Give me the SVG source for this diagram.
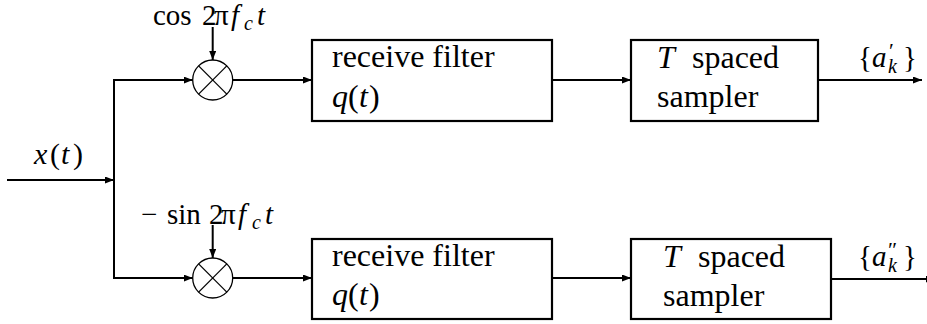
<svg xmlns="http://www.w3.org/2000/svg" width="927" height="324" viewBox="0 0 927 324">
<style>
.w{stroke:#000;stroke-width:2;fill:none}
.box{stroke:#000;stroke-width:2.2;fill:#fff}
.mix{stroke:#000;stroke-width:1.3;fill:#fff}
.x{stroke:#000;stroke-width:1.3}
.i{font-style:italic}
.s{font-size:20px}
.m{font-size:29px}
</style>
<defs>
<marker id="ah" markerWidth="9" markerHeight="7" refX="9" refY="3.5" orient="auto" markerUnits="userSpaceOnUse">
<path d="M0,0 L9,3.5 L0,7 Z" fill="#000"/>
</marker>
</defs>
<g id="connectors">
<line class="w" x1="7" y1="180" x2="114" y2="180" marker-end="url(#ah)"/>
<polyline class="w" points="192.7,80 114,80 114,278 192.7,278"/>
<line class="w" x1="114" y1="80" x2="192.7" y2="80" marker-end="url(#ah)"/>
<line class="w" x1="114" y1="278" x2="192.7" y2="278" marker-end="url(#ah)"/>
<line class="w" x1="212.7" y1="27" x2="212.7" y2="60" marker-end="url(#ah)"/>
<line class="w" x1="212.7" y1="225" x2="212.7" y2="258" marker-end="url(#ah)"/>
<line class="w" x1="232.7" y1="80" x2="312" y2="80" marker-end="url(#ah)"/>
<line class="w" x1="232.7" y1="278" x2="312" y2="278" marker-end="url(#ah)"/>
<line class="w" x1="552" y1="80" x2="631" y2="80" marker-end="url(#ah)"/>
<line class="w" x1="552" y1="278" x2="631" y2="278" marker-end="url(#ah)"/>
<line class="w" x1="818" y1="80" x2="922" y2="80" marker-end="url(#ah)"/>
<line class="w" x1="831" y1="279" x2="935" y2="279" marker-end="url(#ah)"/>
</g>
<g font-family="'Liberation Serif', 'Times New Roman', serif" font-size="32" fill="#000">
<g id="input-label">
<text y="164" font-size="30"><tspan class="i" x="34">x</tspan><tspan x="50">(</tspan><tspan class="i" x="61">t</tspan><tspan x="73">)</tspan></text>
</g>
<g id="mixer-top">
<circle class="mix" cx="212.7" cy="80" r="20"/>
<line class="x" x1="198.6" y1="65.9" x2="226.8" y2="94.1"/>
<line class="x" x1="226.8" y1="65.9" x2="198.6" y2="94.1"/>
<text class="m" y="25"><tspan x="153">cos</tspan><tspan x="202">2</tspan><tspan x="214">π</tspan><tspan class="i" x="231">f</tspan><tspan class="s i" x="244" dy="5">c</tspan><tspan class="i" x="257" dy="-5">t</tspan></text>
</g>
<g id="mixer-bottom">
<circle class="mix" cx="212.7" cy="278" r="20"/>
<line class="x" x1="198.6" y1="263.9" x2="226.8" y2="292.1"/>
<line class="x" x1="226.8" y1="263.9" x2="198.6" y2="292.1"/>
<text class="m" y="224"><tspan x="141">−</tspan><tspan x="167">sin</tspan><tspan x="209">2</tspan><tspan x="221">π</tspan><tspan class="i" x="238">f</tspan><tspan class="s i" x="252" dy="5">c</tspan><tspan class="i" x="265" dy="-5">t</tspan></text>
</g>
<g id="filter-top">
<rect class="box" x="312" y="40" width="240" height="81"/>
<text x="332" y="67">receive filter</text>
<text y="107"><tspan class="i" x="332">q</tspan><tspan x="348">(</tspan><tspan class="i" x="359">t</tspan><tspan x="369">)</tspan></text>
</g>
<g id="filter-bottom">
<rect class="box" x="312" y="239" width="240" height="80"/>
<text x="332" y="266">receive filter</text>
<text y="305"><tspan class="i" x="332">q</tspan><tspan x="348">(</tspan><tspan class="i" x="359">t</tspan><tspan x="369">)</tspan></text>
</g>
<g id="sampler-top">
<rect class="box" x="631" y="40" width="187" height="81"/>
<text y="68"><tspan class="i" x="657">T</tspan><tspan x="692">spaced</tspan></text>
<text x="657" y="107">sampler</text>
</g>
<g id="sampler-bottom">
<rect class="box" x="631" y="239" width="200" height="80"/>
<text y="267"><tspan class="i" x="663">T</tspan><tspan x="698">spaced</tspan></text>
<text x="663" y="306">sampler</text>
</g>
<g id="out-top" font-size="29">
<text x="858" y="67">{<tspan class="i">a</tspan></text>
<text x="889" y="58" font-size="22">′</text>
<text x="888" y="73" class="s i">k</text>
<text x="903" y="67">}</text>
</g>
<g id="out-bottom" font-size="29">
<text x="858" y="266">{<tspan class="i">a</tspan></text>
<text x="888" y="257" font-size="22">″</text>
<text x="888" y="272" class="s i">k</text>
<text x="903" y="266">}</text>
</g>
</g>
</svg>
